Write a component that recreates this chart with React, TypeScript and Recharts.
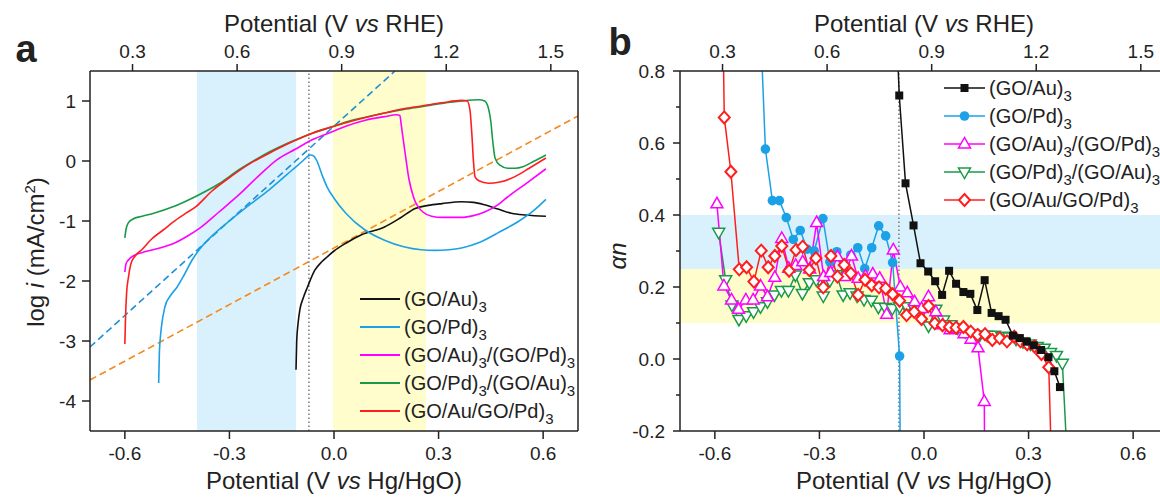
import React from "react";
import {
  ComposedChart,
  Line,
  XAxis,
  YAxis,
  ReferenceArea,
} from "recharts";

// ---------- shared axes ----------
const hgoTicks = [-0.6, -0.3, 0, 0.3, 0.6];
const rheTicks = [0.3, 0.6, 0.9, 1.2, 1.5];
const logTicks = [-4, -3, -2, -1, 0, 1];
const anTicks = [-0.2, -0.1, 0, 0.1, 0.2, 0.3, 0.4, 0.5, 0.6, 0.7, 0.8];

const seriesNames = [
  ["(GO/Au)", "3"],
  ["(GO/Pd)", "3"],
  ["(GO/Au)", "3", "/(GO/Pd)", "3"],
  ["(GO/Pd)", "3", "/(GO/Au)", "3"],
  ["(GO/Au/GO/Pd)", "3"],
];
const seriesColors = ["#111111", "#1ba1e6", "#ff00ff", "#1a9a48", "#ff1e1e"];

// dotted marker line, in V vs RHE
const markerRhe = 0.806;

// ---------- panel a: log i vs potential (Hg/HgO) ----------
const goAuLsv = [
  [-0.109, -3.48], [-0.107, -3.0], [-0.103, -2.7], [-0.098, -2.48], [-0.088, -2.28],
  [-0.076, -2.1], [-0.055, -1.82], [-0.035, -1.68], [-0.02, -1.6], [0.0, -1.5],
  [0.034, -1.37], [0.079, -1.23], [0.145, -1.1], [0.19, -0.95], [0.233, -0.79],
  [0.27, -0.74], [0.31, -0.71], [0.366, -0.68], [0.4, -0.69], [0.432, -0.73],
  [0.47, -0.8], [0.509, -0.87], [0.55, -0.9], [0.608, -0.92],
];
const goPdLsv = [
  [-0.503, -3.7], [-0.501, -3.2], [-0.499, -3.0], [-0.495, -2.76], [-0.485, -2.43],
  [-0.47, -2.25], [-0.45, -2.1], [-0.43, -1.9], [-0.407, -1.65], [-0.384, -1.46],
  [-0.341, -1.2], [-0.296, -0.98], [-0.24, -0.72], [-0.186, -0.48], [-0.12, -0.15],
  [-0.09, 0.0], [-0.075, 0.08], [-0.067, 0.1], [-0.058, 0.08], [-0.049, 0.0],
  [-0.035, -0.22], [-0.02, -0.43], [0.0, -0.62], [0.034, -0.87], [0.089, -1.15],
  [0.145, -1.32], [0.2, -1.43], [0.25, -1.48], [0.289, -1.49], [0.33, -1.48],
  [0.366, -1.45], [0.42, -1.35], [0.476, -1.18], [0.531, -1.0], [0.57, -0.84],
  [0.608, -0.64],
];
const auPdLsv = [
  [-0.6, -1.85], [-0.597, -1.72], [-0.59, -1.65], [-0.572, -1.57], [-0.54, -1.51],
  [-0.5, -1.45], [-0.462, -1.38], [-0.42, -1.25], [-0.385, -1.12], [-0.33, -0.85],
  [-0.274, -0.57], [-0.22, -0.27], [-0.164, 0.02], [-0.11, 0.2], [-0.064, 0.35],
  [0.0, 0.5], [0.034, 0.58], [0.09, 0.68], [0.145, 0.74], [0.18, 0.77],
  [0.189, 0.76], [0.193, 0.6], [0.2, 0.3], [0.206, 0.05], [0.215, -0.3],
  [0.228, -0.6], [0.255, -0.85], [0.28, -0.92], [0.31, -0.94], [0.366, -0.94],
  [0.4, -0.91], [0.432, -0.85], [0.47, -0.73], [0.498, -0.6], [0.55, -0.38],
  [0.608, -0.13],
];
const pdAuLsv = [
  [-0.6, -1.28], [-0.597, -1.15], [-0.59, -1.03], [-0.578, -0.97], [-0.55, -0.92],
  [-0.517, -0.87], [-0.46, -0.76], [-0.4, -0.6], [-0.33, -0.38], [-0.274, -0.15],
  [-0.22, 0.04], [-0.186, 0.15], [-0.12, 0.33], [-0.064, 0.46], [0.0, 0.58],
  [0.034, 0.65], [0.09, 0.73], [0.145, 0.8], [0.2, 0.86], [0.255, 0.91],
  [0.31, 0.96], [0.366, 1.0], [0.416, 1.02], [0.432, 1.0], [0.442, 0.9],
  [0.45, 0.65], [0.456, 0.3], [0.462, 0.05], [0.476, -0.07], [0.498, -0.12],
  [0.52, -0.12], [0.542, -0.095], [0.575, 0.0], [0.608, 0.1],
];
const auGoPdLsv = [
  [-0.6, -3.05], [-0.598, -2.6], [-0.595, -2.2], [-0.59, -1.95], [-0.583, -1.72],
  [-0.57, -1.58], [-0.55, -1.47], [-0.523, -1.3], [-0.49, -1.15], [-0.462, -1.02],
  [-0.43, -0.89], [-0.396, -0.76], [-0.35, -0.5], [-0.296, -0.26], [-0.24, -0.04],
  [-0.186, 0.13], [-0.12, 0.32], [-0.064, 0.46], [0.0, 0.58], [0.06, 0.68],
  [0.145, 0.8], [0.2, 0.87], [0.255, 0.92], [0.31, 0.97], [0.366, 1.01],
  [0.382, 1.0], [0.39, 0.85], [0.396, 0.4], [0.4, 0.0], [0.405, -0.27],
  [0.416, -0.33], [0.443, -0.37], [0.476, -0.35], [0.519, -0.26], [0.56, -0.12],
  [0.608, 0.05],
];
const pdTafel = [[-0.7, -3.1], [0.175, 1.5]];
const auTafel = [[-0.7, -3.65], [0.7, 0.75]];

// ---------- panel b: alpha n vs potential (Hg/HgO) ----------
const goAuAn = [
  [-0.08, 0.95], [-0.071, 0.732], [-0.053, 0.488], [-0.03, 0.371], [-0.01, 0.266],
  [0.012, 0.243], [0.032, 0.216], [0.052, 0.178], [0.072, 0.245], [0.092, 0.209],
  [0.113, 0.186], [0.133, 0.181], [0.153, 0.136], [0.174, 0.219], [0.194, 0.128],
  [0.214, 0.119], [0.234, 0.109], [0.255, 0.065], [0.275, 0.058], [0.295, 0.048],
  [0.315, 0.038], [0.336, 0.025], [0.357, 0.005], [0.374, -0.034], [0.39, -0.078],
];
const goPdAn = [
  [-0.47, 0.95], [-0.455, 0.583], [-0.435, 0.44], [-0.415, 0.44], [-0.395, 0.393],
  [-0.375, 0.332], [-0.355, 0.357], [-0.335, 0.305], [-0.315, 0.3], [-0.29, 0.39],
  [-0.27, 0.27], [-0.25, 0.298], [-0.23, 0.265], [-0.21, 0.289], [-0.19, 0.309],
  [-0.17, 0.251], [-0.15, 0.309], [-0.13, 0.37], [-0.11, 0.342], [-0.09, 0.268],
  [-0.07, 0.008], [-0.068, -0.3],
];
const auPdAn = [
  [-0.594, 0.431], [-0.574, 0.203], [-0.552, 0.164], [-0.532, 0.138], [-0.511, 0.164],
  [-0.49, 0.164], [-0.469, 0.203], [-0.449, 0.173], [-0.428, 0.227], [-0.408, 0.335],
  [-0.388, 0.252], [-0.368, 0.26], [-0.348, 0.27], [-0.328, 0.25], [-0.308, 0.379],
  [-0.288, 0.229], [-0.268, 0.24], [-0.248, 0.284], [-0.228, 0.229], [-0.208, 0.286],
  [-0.189, 0.224], [-0.168, 0.23], [-0.147, 0.236], [-0.127, 0.224], [-0.107, 0.124],
  [-0.088, 0.303], [-0.068, 0.2], [-0.048, 0.184], [-0.027, 0.159], [-0.007, 0.14],
  [0.013, 0.173], [0.034, 0.131], [0.054, 0.095], [0.075, 0.081], [0.095, 0.085],
  [0.115, 0.07], [0.135, 0.055], [0.155, 0.031], [0.173, -0.118], [0.174, -0.3],
];
const pdAuAn = [
  [-0.589, 0.352], [-0.569, 0.22], [-0.551, 0.15], [-0.531, 0.11], [-0.51, 0.12],
  [-0.489, 0.131], [-0.469, 0.145], [-0.449, 0.159], [-0.429, 0.178], [-0.409, 0.19],
  [-0.389, 0.19], [-0.369, 0.233], [-0.349, 0.182], [-0.329, 0.212], [-0.309, 0.22],
  [-0.289, 0.175], [-0.27, 0.218], [-0.251, 0.234], [-0.232, 0.178], [-0.212, 0.184],
  [-0.192, 0.175], [-0.172, 0.165], [-0.151, 0.163], [-0.131, 0.144], [-0.111, 0.143],
  [-0.091, 0.14], [-0.07, 0.145], [-0.049, 0.145], [-0.028, 0.14], [-0.008, 0.136],
  [0.013, 0.092], [0.034, 0.138], [0.056, 0.108], [0.077, 0.095], [0.097, 0.086],
  [0.118, 0.076], [0.139, 0.07], [0.16, 0.067], [0.181, 0.066], [0.202, 0.066],
  [0.223, 0.063], [0.244, 0.061], [0.264, 0.055], [0.284, 0.048], [0.305, 0.042],
  [0.325, 0.035], [0.345, 0.03], [0.363, 0.018], [0.38, 0.01], [0.397, -0.012],
  [0.412, -0.3],
];
const auGoPdAn = [
  [-0.577, 0.95], [-0.573, 0.671], [-0.554, 0.52], [-0.53, 0.249], [-0.509, 0.255],
  [-0.488, 0.215], [-0.467, 0.301], [-0.447, 0.255], [-0.428, 0.286], [-0.408, 0.314],
  [-0.387, 0.245], [-0.367, 0.303], [-0.348, 0.312], [-0.329, 0.247], [-0.31, 0.28],
  [-0.289, 0.199], [-0.267, 0.286], [-0.248, 0.229], [-0.229, 0.261], [-0.21, 0.238],
  [-0.189, 0.178], [-0.169, 0.22], [-0.15, 0.205], [-0.129, 0.199], [-0.11, 0.196],
  [-0.09, 0.18], [-0.07, 0.162], [-0.05, 0.122], [-0.028, 0.131], [-0.007, 0.111],
  [0.013, 0.147], [0.031, 0.099], [0.053, 0.094], [0.073, 0.089], [0.092, 0.087],
  [0.113, 0.089], [0.134, 0.076], [0.154, 0.067], [0.175, 0.069], [0.196, 0.053],
  [0.217, 0.058], [0.238, 0.049], [0.259, 0.062], [0.277, 0.049], [0.296, 0.041],
  [0.317, 0.035], [0.337, 0.014], [0.358, -0.023], [0.366, -0.3],
];

const FONT = '"Liberation Sans", Arial, Helvetica, sans-serif';
const INK = "#222";
const BLUE_BAND = "#d9f1fc";
const YELLOW_BAND = "#fffdcc";
const RHE_SHIFT = 0.878;

const pts = (arr: number[][]) => arr.map(([x, y]) => ({ x, y }));
const fmt1 = (v: number) => v.toFixed(1);
const tickStyle = { fill: INK, fontSize: 19, fontFamily: FONT };
const axisStroke = { stroke: INK, strokeWidth: 1.5 };

type Shape = "square" | "circle" | "up" | "down" | "diamond";
const shapes: Shape[] = ["square", "circle", "up", "down", "diamond"];

function Marker({ shape, cx, cy, color }: { shape: Shape; cx: number; cy: number; color: string }) {
  if (shape === "square") return <rect x={cx - 4} y={cy - 4} width={8} height={8} fill={color} />;
  if (shape === "circle") return <circle cx={cx} cy={cy} r={4.8} fill={color} />;
  if (shape === "up")
    return <polygon points={`${cx},${cy - 6.5} ${cx - 6},${cy + 4} ${cx + 6},${cy + 4}`} fill="#fff" stroke={color} strokeWidth={1.5} />;
  if (shape === "down")
    return <polygon points={`${cx},${cy + 6.5} ${cx - 6},${cy - 4} ${cx + 6},${cy - 4}`} fill="#fff" stroke={color} strokeWidth={1.5} />;
  return <polygon points={`${cx},${cy - 6} ${cx + 5.5},${cy} ${cx},${cy + 6} ${cx - 5.5},${cy}`} fill="#fff" stroke={color} strokeWidth={2} />;
}

const dotFor = (shape: Shape, color: string) => (props: any) => {
  const { cx, cy, payload, index } = props;
  if (cx == null || cy == null || payload.y > 0.8 || payload.y < -0.2) return <g key={index} />;
  return (
    <g key={index}>
      <Marker shape={shape} cx={cx} cy={cy} color={color} />
    </g>
  );
};

function AnTick(props: any) {
  const { x, y, payload } = props;
  const v = payload.value;
  const major = Math.round(v * 10) % 2 === 0;
  const axisX = x + 15;
  return (
    <g>
      <line x1={axisX - (major ? 7 : 4)} x2={axisX} y1={y} y2={y} stroke={INK} strokeWidth={1.5} />
      {major && (
        <text x={x} y={y} dy="0.35em" textAnchor="end" fill={INK} fontSize={19} fontFamily={FONT}>
          {fmt1(v)}
        </text>
      )}
    </g>
  );
}

function SeriesName({ parts }: { parts: string[] }) {
  return (
    <span>
      {parts.map((p, i) =>
        i % 2 === 0 ? (
          <span key={i}>{p}</span>
        ) : (
          <span key={i} style={{ fontSize: 15, position: "relative", top: 6 }}>{p}</span>
        )
      )}
    </span>
  );
}

function Text({ left, top, children, size = 24, rotate = false, bold = false }: any) {
  const w = 320;
  const h = 44;
  return (
    <div
      style={{
        position: "absolute",
        left: left - w / 2,
        top: top - h / 2,
        width: w,
        height: h,
        lineHeight: `${h}px`,
        textAlign: "center",
        fontSize: size,
        fontWeight: bold ? "bold" : "normal",
        transform: rotate ? "rotate(-90deg)" : undefined,
        whiteSpace: "nowrap",
      }}
    >
      {children}
    </div>
  );
}

const lsvSeries = [goAuLsv, goPdLsv, auPdLsv, pdAuLsv, auGoPdLsv];
const anSeries = [goAuAn, goPdAn, auPdAn, pdAuAn, auGoPdAn];
const anOrder = [1, 3, 2, 4, 0];

function TopAxis() {
  return (
    <XAxis
      xAxisId="rhe" dataKey="x" orientation="top" type="number"
      domain={[-0.7 + RHE_SHIFT, 0.7 + RHE_SHIFT]} ticks={rheTicks} allowDataOverflow interval={0}
      tickFormatter={fmt1} tick={tickStyle} axisLine={axisStroke} tickLine={axisStroke}
      tickSize={7} tickMargin={6} height={30}
    />
  );
}

function PanelA() {
  return (
    <div style={{ position: "absolute", left: 0, top: 0 }}>
      <ComposedChart width={600} height={499} margin={{ top: 41, right: 12, bottom: 38, left: 30 }}>
        <XAxis
          xAxisId="hgo" dataKey="x" type="number" domain={[-0.7, 0.7]} ticks={hgoTicks}
          allowDataOverflow interval={0} tickFormatter={fmt1} tick={tickStyle}
          axisLine={axisStroke} tickLine={axisStroke} tickSize={8} tickMargin={8} height={30}
        />
        {TopAxis()}
        <YAxis
          yAxisId="log" type="number" domain={[-4.5, 1.5]} ticks={logTicks} allowDataOverflow
          interval={0} tick={tickStyle} axisLine={axisStroke} tickLine={axisStroke}
          tickSize={8} tickMargin={6} width={60}
        />
        <YAxis
          yAxisId="box" orientation="right" type="number" domain={[0, 1]} ticks={[]}
          tick={false} tickLine={false} axisLine={axisStroke} width={10}
        />
        <ReferenceArea xAxisId="hgo" yAxisId="log" x1={-0.393} x2={-0.109} fill={BLUE_BAND} fillOpacity={1} stroke="none" />
        <ReferenceArea xAxisId="hgo" yAxisId="log" x1={-0.003} x2={0.264} fill={YELLOW_BAND} fillOpacity={1} stroke="none" />
        <Line xAxisId="rhe" yAxisId="log" data={[{ x: markerRhe, y: -4.5 }, { x: markerRhe, y: 1.5 }]} dataKey="y"
          stroke="#777" strokeWidth={1.5} strokeDasharray="1.5 2.5" dot={false} activeDot={false} isAnimationActive={false} />
        <Line xAxisId="hgo" yAxisId="log" data={pts(pdTafel)} dataKey="y" stroke="#1c8fd8" strokeWidth={1.6}
          strokeDasharray="7 4" dot={false} activeDot={false} isAnimationActive={false} />
        <Line xAxisId="hgo" yAxisId="log" data={pts(auTafel)} dataKey="y" stroke="#f5891f" strokeWidth={1.6}
          strokeDasharray="7 4" dot={false} activeDot={false} isAnimationActive={false} />
        {lsvSeries.map((s, i) => (
          <Line key={i} xAxisId="hgo" yAxisId="log" data={pts(s)} dataKey="y" type="monotone"
            stroke={seriesColors[i]} strokeWidth={1.6} dot={false} activeDot={false} isAnimationActive={false} />
        ))}
      </ComposedChart>
      <div style={{ position: "absolute", left: 360, top: 285, fontSize: 20 }}>
        {seriesNames.map((n, i) => (
          <div key={i} style={{ position: "absolute", left: 0, top: i * 28, height: 28, display: "flex", alignItems: "center", whiteSpace: "nowrap" }}>
            <svg width={44} height={28} style={{ flex: "none" }}>
              <line x1={0} x2={40} y1={14} y2={14} stroke={seriesColors[i]} strokeWidth={2} />
            </svg>
            <SeriesName parts={n} />
          </div>
        ))}
      </div>
    </div>
  );
}

function PanelB() {
  return (
    <div style={{ position: "absolute", left: 590, top: 0 }}>
      <ComposedChart width={590} height={499} margin={{ top: 41, right: 12, bottom: 38, left: 30 }}>
        <XAxis
          xAxisId="hgo" dataKey="x" type="number" domain={[-0.7, 0.7]} ticks={hgoTicks}
          allowDataOverflow interval={0} tickFormatter={fmt1} tick={tickStyle}
          axisLine={axisStroke} tickLine={axisStroke} tickSize={8} tickMargin={8} height={30}
        />
        {TopAxis()}
        <YAxis
          yAxisId="an" type="number" domain={[-0.2, 0.8]} ticks={anTicks} allowDataOverflow
          interval={0} tick={<AnTick />} axisLine={axisStroke} tickLine={false}
          tickSize={7} tickMargin={8} width={60}
        />
        <ReferenceArea xAxisId="hgo" yAxisId="an" y1={0.25} y2={0.4} fill={BLUE_BAND} fillOpacity={1} stroke="none" />
        <ReferenceArea xAxisId="hgo" yAxisId="an" y1={0.1} y2={0.25} fill={YELLOW_BAND} fillOpacity={1} stroke="none" />
        <Line xAxisId="rhe" yAxisId="an" data={[{ x: markerRhe, y: -0.2 }, { x: markerRhe, y: 0.8 }]} dataKey="y"
          stroke="#777" strokeWidth={1.5} strokeDasharray="1.5 2.5" dot={false} activeDot={false} isAnimationActive={false} />
        {anOrder.map((i) => (
          <Line key={i} xAxisId="hgo" yAxisId="an" data={pts(anSeries[i])} dataKey="y"
            stroke={seriesColors[i]} strokeWidth={1.5} dot={dotFor(shapes[i], seriesColors[i])}
            activeDot={false} isAnimationActive={false} />
        ))}
      </ComposedChart>
      <div style={{ position: "absolute", left: 354, top: 74, fontSize: 20 }}>
        {seriesNames.map((n, i) => (
          <div key={i} style={{ position: "absolute", left: 0, top: i * 28, height: 28, display: "flex", alignItems: "center", whiteSpace: "nowrap" }}>
            <svg width={45} height={28} style={{ flex: "none" }}>
              <line x1={0} x2={41} y1={14} y2={14} stroke={seriesColors[i]} strokeWidth={1.5} />
              <Marker shape={shapes[i]} cx={20.5} cy={14} color={seriesColors[i]} />
            </svg>
            <SeriesName parts={n} />
          </div>
        ))}
      </div>
    </div>
  );
}

export default function App() {
  return (
    <div
      style={{
        position: "absolute", left: 0, top: 0, width: 1160, height: 499, overflow: "hidden",
        background: "#fff", fontFamily: FONT, color: INK,
      }}
    >
      <PanelA />
      <PanelB />
      <Text left={26} top={49} size={38} bold>a</Text>
      <Text left={620} top={42} size={38} bold>b</Text>
      <Text left={334} top={24}>Potential (V <i>vs</i> RHE)</Text>
      <Text left={924} top={24}>Potential (V <i>vs</i> RHE)</Text>
      <Text left={334} top={481}>Potential (V <i>vs</i> Hg/HgO)</Text>
      <Text left={924} top={481}>Potential (V <i>vs</i> Hg/HgO)</Text>
      <Text left={30} top={252} rotate>
        log <i>i</i> (mA/cm<sup style={{ fontSize: 15 }}>2</sup>)
      </Text>
      <Text left={618} top={256} rotate><i>αn</i></Text>
    </div>
  );
}
